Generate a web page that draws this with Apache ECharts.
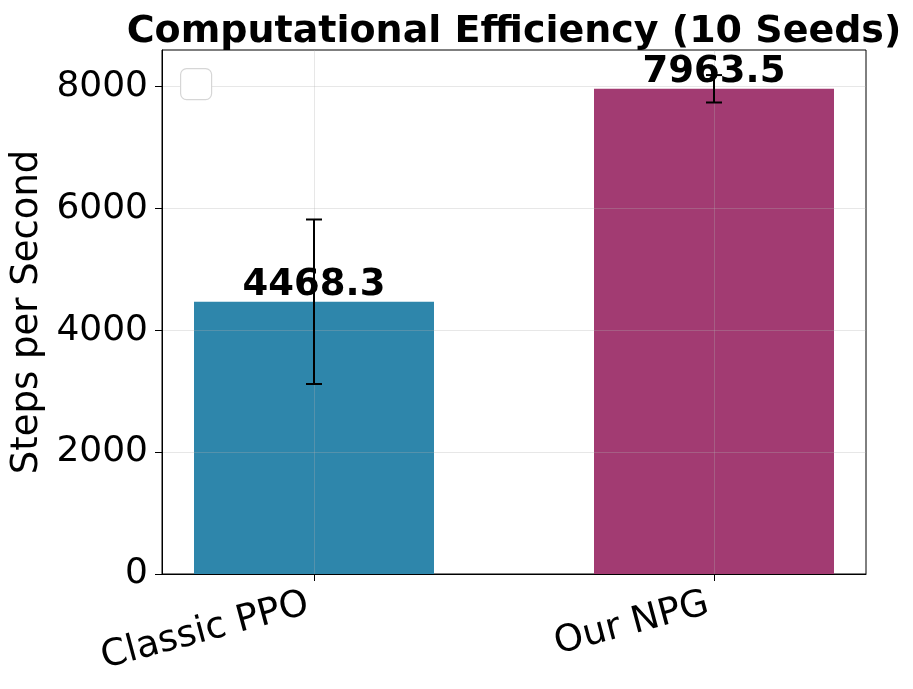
<!DOCTYPE html>
<html>
<head>
<meta charset="utf-8">
<script src="https://cdn.jsdelivr.net/npm/echarts@6/dist/echarts.min.js"></script>
<style>html,body{margin:0;padding:0;background:#fff;}#chart{width:913px;height:689px;}</style>
</head>
<body>
<div id="chart"></div>
<script>
const categories = ['Classic PPO', 'Our NPG'];
const means = [4468.3, 7963.5];
const errors = [1350, 225];
const yTicks = [0, 2000, 4000, 6000, 8000];
const titleText = 'Computational Efficiency (10 Seeds)';
const yName = 'Steps per Second';

const barColors = ['#2E86AB', '#A23B72'];
const FONT = 'DejaVu Sans';
const halfWidth = 0.3;

const data = categories.map((c, i) => [i, means[i], errors[i]]);

const chart = echarts.init(document.getElementById('chart'), null, {renderer: 'canvas'});
chart.setOption({
  animation: false,
  backgroundColor: '#fff',
  title: {
    text: titleText,
    left: 509,
    textAlign: 'center',
    top: 8,
    textStyle: {fontFamily: FONT, fontWeight: 'bold', fontSize: 38, color: '#000'}
  },
  grid: {left: 162, right: 47, top: 50, bottom: 115, show: true, borderColor: '#000', borderWidth: 1,
         backgroundColor: 'transparent', containLabel: false, outerBoundsMode: 'none'},
  xAxis: {
    type: 'value', min: -0.38, max: 1.38, z: 10,
    axisLine: {show: true, onZero: false, lineStyle: {color: '#000', width: 1}},
    axisTick: {show: true, customValues: [0, 1], length: 7, lineStyle: {color: '#000', width: 1}},
    axisLabel: {
      customValues: [0, 1], rotate: 15, margin: 28, padding: [0, 6, 0, 0],
      fontFamily: FONT, fontSize: 37, color: '#000',
      formatter: v => categories[Math.round(v)]
    },
    splitLine: {show: true, lineStyle: {color: 'rgba(176,176,176,0.3)', width: 1}}
  },
  yAxis: {
    type: 'value', min: 0, max: 8600, interval: 2000, z: 10,
    name: yName, nameLocation: 'middle', nameRotate: 90, nameGap: 106,
    nameTextStyle: {fontFamily: FONT, fontSize: 37, color: '#000'},
    axisLine: {show: true, onZero: false, lineStyle: {color: '#000', width: 1}},
    axisTick: {show: true, customValues: yTicks, length: 7, lineStyle: {color: '#000', width: 1}},
    axisLabel: {customValues: yTicks, margin: 14, fontFamily: FONT, fontSize: 36, color: '#000',
                formatter: v => String(v)},
    splitLine: {show: true, lineStyle: {color: 'rgba(176,176,176,0.3)', width: 1}}
  },
  graphic: [{
    type: 'rect', left: 180, top: 68, z: 50,
    shape: {width: 31, height: 31, r: 6},
    style: {fill: '#fff', stroke: '#d6d6d6', lineWidth: 1.2}
  }],
  series: [
    {
      type: 'custom', z: 2,
      data: data,
      encode: {x: 0, y: 1},
      renderItem: (params, api) => {
        const x = api.value(0), y = api.value(1);
        const p0 = api.coord([x - halfWidth, y]);
        const p1 = api.coord([x + halfWidth, 0]);
        return {
          type: 'rect',
          shape: {x: p0[0], y: p0[1], width: p1[0] - p0[0], height: p1[1] - p0[1]},
          style: {fill: barColors[params.dataIndex]}
        };
      }
    },
    {
      type: 'custom', z: 20,
      data: data,
      encode: {x: 0, y: 1},
      renderItem: (params, api) => {
        const x = api.value(0), y = api.value(1), e = api.value(2);
        const top = api.coord([x, y + e]);
        const bot = api.coord([x, y - e]);
        const cap = 8;
        const ls = {stroke: '#000', lineWidth: 2};
        return {
          type: 'group',
          children: [
            {type: 'line', shape: {x1: top[0], y1: top[1], x2: bot[0], y2: bot[1]}, style: ls},
            {type: 'line', shape: {x1: top[0] - cap, y1: top[1], x2: top[0] + cap, y2: top[1]}, style: ls},
            {type: 'line', shape: {x1: bot[0] - cap, y1: bot[1], x2: bot[0] + cap, y2: bot[1]}, style: ls}
          ]
        };
      }
    },
    {
      type: 'custom', z: 30,
      data: data,
      encode: {x: 0, y: 1},
      renderItem: (params, api) => {
        const x = api.value(0), y = api.value(1);
        const p = api.coord([x, y]);
        return {
          type: 'text',
          style: {
            x: p[0], y: p[1] + 2,
            text: y.toFixed(1),
            align: 'center', verticalAlign: 'bottom',
            fontFamily: FONT, fontWeight: 'bold', fontSize: 37, fill: '#000'
          }
        };
      }
    }
  ]
});
</script>
</body>
</html>
